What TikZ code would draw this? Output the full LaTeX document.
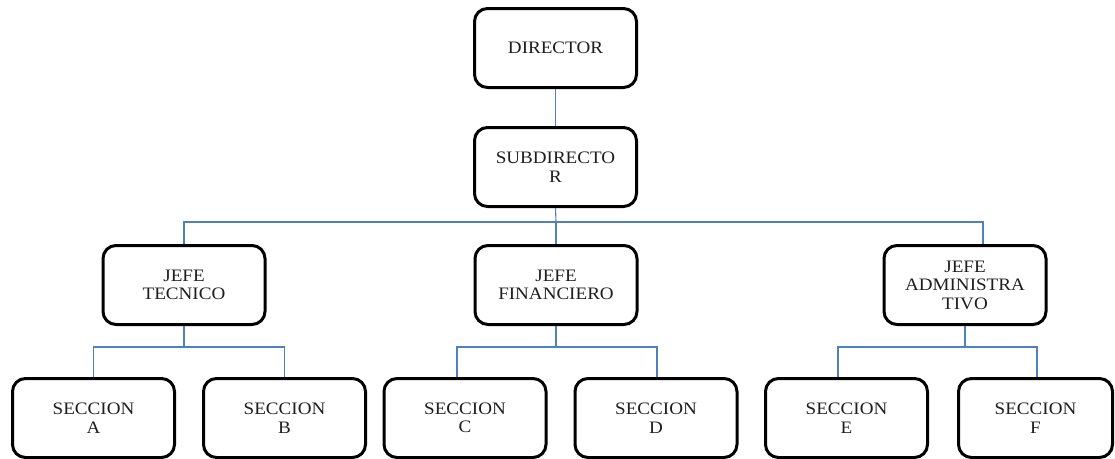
\documentclass[tikz,border=0pt]{standalone}
\usepackage{fontspec}
\setmainfont{Liberation Serif}[FakeStretch=1.09]
\definecolor{linkblue}{RGB}{79,129,189}
\definecolor{inkgray}{RGB}{30,30,30}
\tikzset{
  unit/.style={draw=black, line width=3pt, rounded corners=13pt,
    minimum width=162pt, minimum height=79pt, inner sep=0pt,
    align=center, text=inkgray,
    font=\fontsize{17.5}{18.5}\selectfont},
  link/.style={draw=linkblue, line width=1.1pt},
}
\begin{document}
\begin{tikzpicture}[x=1pt, y=-1pt]
\useasboundingbox (0,0) rectangle (1115,458);
\begin{scope}
\clip (0,0) rectangle (1115,458);

% top of the chart
\node[unit] (dir) at (555.5,48) {DIRECTOR};
\node[unit] (sub) at (555.5,167) {SUBDIRECTO\\R};

% department heads
\node[unit] (jt) at (184,285) {JEFE\\TECNICO};
\node[unit] (jf) at (556,285) {JEFE\\FINANCIERO};
\node[unit] (ja) at (965,285) {JEFE\\ADMINISTRA\\TIVO};

% sections
\node[unit] (sa) at (93.5,418) {SECCION\\A};
\node[unit] (sb) at (284.5,418) {SECCION\\B};
\node[unit] (sc) at (465,418) {SECCION\\C};
\node[unit] (sd) at (656,418) {SECCION\\D};
\node[unit] (se) at (846.5,418) {SECCION\\E};
\node[unit, minimum width=154pt] (sf) at (1035.5,418) {SECCION\\F};

% branch rows
\coordinate (busMain) at (556,222);
\coordinate (busT) at (184,347);
\coordinate (busF) at (556,347);
\coordinate (busA) at (965,347);

\draw[link] (dir.south) -- (sub.north);
\draw[link] (sub.south) -- (busMain);
\draw[link] (jt.north) |- (busMain);
\draw[link] (jf.north) -- (busMain);
\draw[link] ([xshift=18pt]ja.north) |- (busMain);

\draw[link] (jt.south) -- (busT);
\draw[link] (sa.north) |- (busT);
\draw[link] (sb.north) |- (busT);

\draw[link] (jf.south) -- (busF);
\draw[link] ([xshift=-8pt]sc.north) |- (busF);
\draw[link] ([xshift=1pt]sd.north) |- (busF);

\draw[link] (ja.south) -- (busA);
\draw[link] ([xshift=-8.5pt]se.north) |- (busA);
\draw[link] ([xshift=1.5pt]sf.north) |- (busA);
\end{scope}
\end{tikzpicture}
\end{document}
